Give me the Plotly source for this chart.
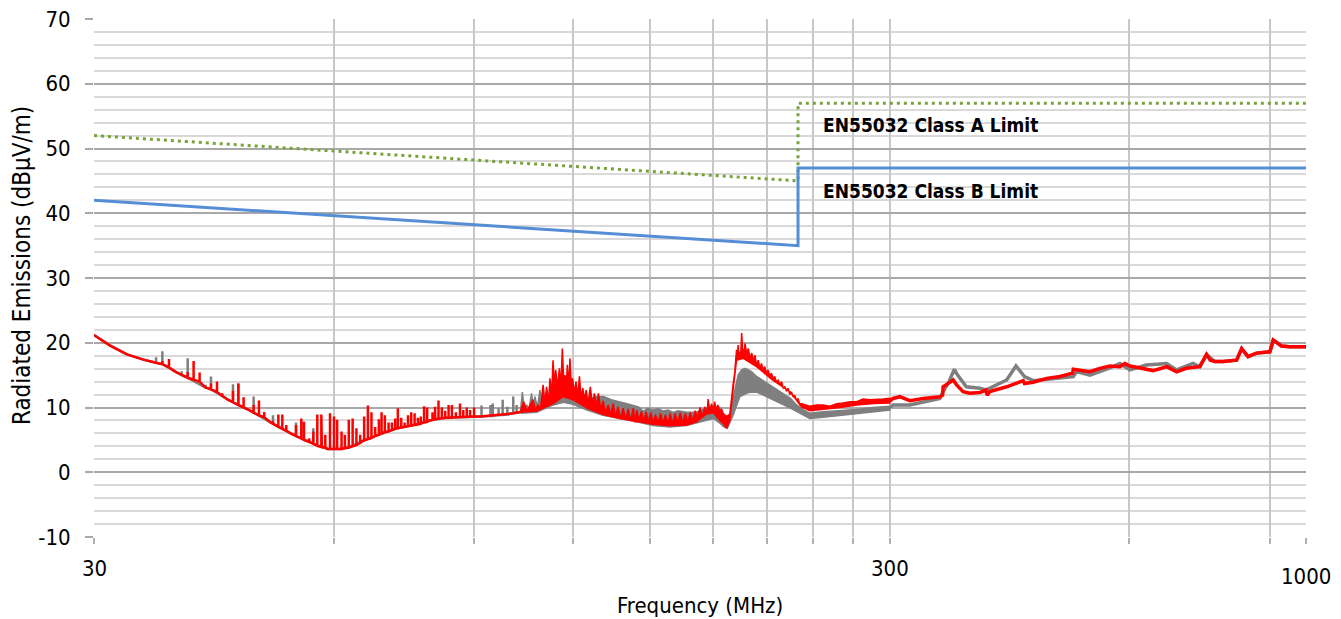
import math
import plotly.graph_objects as go

FONT = "Liberation Sans Narrow, DejaVu Sans Condensed, sans-serif"

# EN55032 limits (MHz, dBuV/m)
class_b_freq = [30, 230, 230, 1000]
class_b_db = [42, 35, 47, 47]
class_a_freq = [30, 230, 230, 1000]
class_a_db = [52, 45, 57, 57]

# red scan, 30-103 MHz: floor + narrow harmonics (freq, base, peak)
red_floor_low = [(30.0, 21.2), (31.4, 19.6), (33.0, 18.2), (34.6, 17.4), (35.9, 16.9), (38.0, 15.5),
                 (39.0, 14.8), (41.4, 13.1), (44.2, 11.2), (47.0, 9.6), (50.0, 7.7), (53.0, 6.0),
                 (56.0, 4.7), (58.0, 3.9), (59.0, 3.6), (61.1, 3.6), (62.9, 3.9), (65.4, 4.9),
                 (68.6, 5.9), (72.0, 6.8), (75.6, 7.3), (79.3, 8.0), (83.2, 8.4), (87.3, 8.55),
                 (91.6, 8.6), (96.1, 8.8), (100.9, 9.1), (103.0, 9.3)]
red_spikes_low = [(36.56, 16.7, 17.2), (37.27, 16.2, 17.5), (39.34, 14.6, 15.5), (40.02, 14.3, 17.2),
                  (40.72, 14.0, 15.4), (42.08, 12.8, 13.7), (42.82, 12.4, 14.0), (43.48, 11.8, 12.2),
                  (44.85, 10.8, 12.6), (45.55, 10.4, 13.7), (46.25, 10.0, 11.6), (47.61, 9.2, 10.4),
                  (48.35, 8.8, 11.1), (49.1, 8.5, 9.3), (50.35, 7.5, 7.9), (51.14, 7.0, 8.9),
                  (51.73, 6.7, 8.9), (52.33, 6.4, 7.3), (53.82, 5.6, 7.3), (54.65, 5.2, 8.3),
                  (55.07, 5.0, 7.8), (55.88, 4.7, 5.2), (56.58, 4.4, 6.3), (57.24, 4.1, 8.9),
                  (57.91, 3.9, 8.9), (58.58, 3.8, 5.8), (59.38, 3.6, 9.1), (60.07, 3.6, 8.6),
                  (60.62, 3.6, 8.1), (61.4, 3.6, 6.3), (62.0, 3.7, 5.8), (62.7, 3.8, 8.1),
                  (63.4, 4.0, 8.3), (64.1, 4.2, 6.8), (64.8, 4.5, 5.8), (65.55, 4.9, 8.6),
                  (66.26, 5.1, 10.3), (66.95, 5.3, 9.25), (67.67, 5.6, 7.0), (68.4, 5.8, 8.2),
                  (68.94, 6.0, 9.25), (69.6, 6.2, 8.8), (70.35, 6.3, 7.7), (71.03, 6.5, 7.7),
                  (71.7, 6.7, 8.3), (72.26, 6.8, 9.9), (72.97, 6.9, 8.4), (73.7, 7.0, 7.7),
                  (74.41, 7.1, 8.8), (75.11, 7.2, 9.25), (75.85, 7.3, 9.1), (76.57, 7.4, 8.4),
                  (77.22, 7.5, 8.6), (77.96, 7.7, 10.2), (78.66, 7.8, 10.0), (79.88, 8.1, 9.25),
                  (80.48, 8.2, 10.1), (81.28, 8.3, 11.1), (82.07, 8.35, 10.0), (82.87, 8.4, 9.5),
                  (83.69, 8.4, 10.4), (84.49, 8.45, 10.4), (85.47, 8.5, 9.25), (86.5, 8.5, 10.6),
                  (87.33, 8.55, 9.6), (88.2, 8.55, 10.0), (89.04, 8.6, 9.6), (90.09, 8.6, 10.0)]

# grey scan harmonics that show above the red one
grey_spikes_low = [(35.9, 16.9, 17.75), (36.56, 16.7, 18.7), (38.66, 15.0, 15.6), (39.34, 14.6, 17.6),
                   (41.44, 13.1, 13.5), (42.08, 12.8, 14.8), (44.85, 10.8, 13.6), (45.55, 10.4, 13.7),
                   (47.61, 9.2, 11.7), (50.35, 7.5, 8.8), (53.82, 5.6, 7.7), (56.58, 4.4, 6.8),
                   (92.05, 8.6, 10.3), (94.48, 8.7, 10.4), (95.1, 8.7, 10.6), (96.7, 8.8, 9.9),
                   (97.86, 8.85, 11.2), (99.2, 8.9, 10.1), (100.9, 9.1, 11.7), (101.9, 9.2, 10.4)]

# dense 103-300 MHz region: top and bottom of the envelope
red_band_top = [(103.0, 9.4), (104.0, 10.9), (105.0, 9.5), (106.8, 11.2), (107.6, 9.6), (108.4, 10.4),
                (109.2, 9.8), (110.0, 13.5), (110.6, 10.5), (111.1, 13.2), (111.8, 11.0), (112.2, 14.5),
                (112.8, 12.0), (113.2, 17.3), (113.7, 13.5), (114.1, 15.8), (114.7, 13.0), (115.3, 16.05),
                (115.8, 13.2), (116.3, 19.1), (116.8, 13.7), (117.2, 15.0), (117.6, 13.0), (118.0, 16.6),
                (118.5, 13.2), (118.9, 17.6), (119.4, 13.0), (119.8, 14.5), (120.4, 12.2), (121.0, 14.0),
                (121.6, 11.7), (122.2, 14.8), (122.8, 11.4), (123.4, 13.0), (124.0, 11.2), (124.6, 12.7),
                (125.3, 10.6), (126.1, 13.2), (126.9, 10.4), (127.6, 12.2), (128.4, 10.1), (129.1, 12.2),
                (130.0, 9.6), (130.8, 11.0), (131.8, 9.25), (132.8, 10.4), (133.8, 8.9), (134.7, 10.6),
                (135.7, 8.6), (136.6, 10.1), (137.6, 8.3), (138.7, 9.9), (139.7, 8.1), (140.7, 9.8),
                (141.7, 7.9), (142.8, 9.9), (143.5, 7.7), (144.2, 9.6), (145.2, 8.0), (146.2, 9.4),
                (147.2, 7.9), (148.2, 9.3), (149.2, 7.8), (150.2, 9.2), (151.2, 7.7), (152.3, 8.9),
                (153.4, 7.6), (154.5, 9.1), (155.6, 7.6), (156.7, 8.9), (157.8, 7.5), (158.9, 9.1),
                (160.0, 7.5), (161.2, 9.1), (162.4, 7.6), (163.6, 9.25), (164.8, 7.6), (166.0, 9.1),
                (167.2, 7.7), (168.4, 9.25), (169.6, 7.9), (170.8, 9.5), (172.0, 8.3), (173.2, 10.0),
                (174.4, 8.6), (175.6, 10.1), (176.8, 9.0), (177.3, 11.3), (178.2, 9.5), (179.1, 10.6),
                (180.0, 9.5), (180.7, 10.9), (181.5, 9.5), (182.4, 10.4), (183.4, 9.4), (184.3, 9.8),
                (185.2, 9.1), (187.0, 8.6), (188.8, 9.0), (189.7, 11.7), (190.6, 13.5), (191.5, 15.3),
                (192.5, 18.9), (193.0, 17.5), (193.4, 19.65), (193.9, 18.0), (194.4, 18.6), (194.9, 18.4),
                (195.4, 21.5), (195.9, 18.9), (196.3, 18.9), (196.8, 18.3), (197.3, 19.9), (198.2, 18.4),
                (199.2, 19.1), (200.2, 17.6), (201.2, 18.4), (202.1, 17.1), (203.0, 18.1), (204.0, 16.6),
                (205.0, 17.3), (206.0, 16.0), (206.9, 16.8), (207.9, 15.8), (208.9, 16.3), (209.9, 15.3),
                (210.9, 15.8), (212.0, 14.8), (213.0, 15.3), (214.0, 14.4), (215.0, 14.8), (216.1, 13.9),
                (217.1, 14.2), (218.2, 13.5), (219.3, 14.0), (220.4, 13.0), (221.4, 13.2), (222.5, 12.5),
                (223.5, 13.0), (224.6, 12.0), (225.7, 12.4), (226.8, 11.6), (227.8, 11.9), (228.9, 11.1),
                (230.0, 11.4), (231.1, 10.5), (232.3, 10.6), (235.0, 10.4), (238.0, 10.2), (242.6, 10.4),
                (247.4, 10.4), (252.2, 10.2), (257.2, 10.6), (262.1, 10.7), (267.2, 10.9), (272.5, 10.9),
                (277.6, 11.3), (283.1, 11.2), (288.6, 11.2), (294.2, 11.3), (300.0, 11.4)]
red_band_bottom = [(103.0, 9.25), (108.0, 9.46), (113.3, 10.6), (116.6, 11.7), (120.0, 11.2), (124.9, 9.9),
                   (130.8, 8.9), (137.4, 8.3), (144.2, 7.8), (151.2, 7.4), (158.7, 7.2), (166.6, 7.3),
                   (171.5, 7.8), (176.5, 9.0), (180.0, 9.2), (183.4, 8.0), (185.2, 7.55), (187.0, 6.8),
                   (188.8, 8.0), (190.6, 12.7), (192.5, 17.3), (196.3, 17.6), (204.0, 16.3), (214.0, 14.2),
                   (225.0, 12.4), (232.3, 10.1), (238.0, 9.5), (247.4, 9.7), (259.6, 10.0), (272.5, 10.4),
                   (285.8, 10.6), (300.0, 10.7)]
grey_band_top = [(103.0, 9.3), (103.6, 12.4), (104.2, 9.6), (104.9, 10.4), (105.6, 9.7), (106.4, 12.2),
                 (106.9, 10.0), (107.4, 11.7), (108.2, 10.0), (109.0, 12.7), (109.5, 10.5), (110.0, 13.2),
                 (110.6, 10.8), (111.5, 11.9), (112.5, 11.0), (113.3, 12.4), (115.5, 12.7), (117.6, 12.4),
                 (120.0, 11.7), (124.9, 11.2), (128.5, 11.7), (131.0, 11.7), (134.0, 11.2), (137.4, 10.9),
                 (141.0, 10.5), (144.9, 10.1), (147.0, 9.4), (149.0, 9.9), (151.2, 9.6), (153.4, 9.8),
                 (155.7, 9.46), (157.9, 9.6), (160.2, 9.25), (162.6, 9.5), (166.6, 9.25), (171.5, 9.3),
                 (174.0, 9.61), (176.5, 9.9), (180.0, 10.1), (183.4, 10.0), (185.2, 8.1), (188.8, 8.1),
                 (190.6, 11.4), (193.4, 15.0), (195.4, 15.8), (197.3, 16.05), (199.2, 15.8), (201.2, 15.5),
                 (204.0, 14.8), (209.0, 14.0), (214.0, 13.2), (219.3, 12.3), (225.0, 11.4), (229.0, 10.4),
                 (234.0, 9.6), (238.0, 9.1), (247.4, 9.35), (259.6, 9.5), (272.5, 9.7), (285.8, 10.0),
                 (300.0, 10.2)]
grey_band_bottom = [(103.0, 9.1), (108.0, 9.25), (113.3, 10.4), (116.6, 10.8), (120.0, 10.5), (124.9, 9.6),
                    (130.8, 8.8), (137.4, 8.3), (144.2, 7.8), (151.2, 7.2), (158.7, 7.0), (166.6, 7.2),
                    (174.0, 7.8), (180.0, 8.3), (183.4, 7.6), (185.2, 7.1), (187.5, 6.8), (190.6, 8.8),
                    (194.4, 11.7), (199.2, 12.3), (204.0, 12.4), (214.0, 11.2), (225.0, 9.9), (234.0, 8.8),
                    (238.0, 8.3), (247.4, 8.5), (272.5, 9.0), (300.0, 9.6)]

# 300-1000 MHz
red_high = [(300.0, 11.0), (302.8, 11.4), (308.7, 11.67), (317.8, 11.06), (330.4, 11.4), (346.7, 11.67),
            (349.4, 11.9), (350.0, 13.2), (356.0, 13.8), (360.3, 14.25), (363.9, 13.5), (370.8, 12.45),
            (378.1, 12.2), (389.3, 12.3), (396.1, 12.7), (397.6, 11.9), (400.7, 12.45), (420.6, 13.2),
            (441.2, 14.15), (442.9, 13.7), (454.1, 13.9), (472.2, 14.5), (490.8, 14.8), (509.0, 15.3),
            (510.0, 15.9), (530.1, 15.6), (535.1, 15.53), (550.9, 16.05), (567.1, 16.4), (583.6, 16.3),
            (592.1, 16.8), (600.7, 16.4), (618.4, 16.05), (642.6, 15.7), (668.3, 16.3), (687.6, 15.5),
            (707.2, 16.05), (735.5, 16.3), (750.0, 18.2), (758.0, 17.3), (768.1, 17.1), (786.9, 17.1),
            (818.0, 17.3), (830.1, 19.1), (845.6, 17.85), (866.7, 18.4), (900.8, 18.6), (909.6, 20.4),
            (931.7, 19.5), (954.3, 19.4), (1000.0, 19.4)]
grey_high = [(300.0, 10.0), (302.8, 10.4), (317.8, 10.4), (346.7, 11.4), (350.0, 12.45), (356.0, 14.0),
             (361.5, 15.9), (365.0, 15.0), (374.3, 13.2), (389.3, 12.96), (396.1, 12.7), (420.6, 14.25),
             (432.1, 16.41), (442.9, 14.76), (454.1, 14.15), (472.2, 14.35), (510.0, 14.76), (515.1, 15.55),
             (535.1, 15.0), (567.1, 16.1), (583.6, 16.8), (600.7, 15.8), (630.0, 16.56), (668.3, 16.8),
             (687.6, 15.8), (721.2, 16.8), (735.5, 16.3), (750.0, 18.2), (768.1, 17.1), (786.9, 17.1),
             (818.0, 17.3), (830.1, 19.1), (845.6, 17.85), (866.7, 18.4), (900.8, 18.6), (909.6, 20.4),
             (931.7, 19.5), (954.3, 19.4), (1000.0, 19.4)]

x_grid = [30, 60, 90, 120, 150, 180, 210, 240, 270, 300, 600, 900, 1000]
y_ticks = [-10, 0, 10, 20, 30, 40, 50, 60, 70]

RED = "#ff0000"
GREY = "#7f7f7f"


def with_spikes(floor, spikes):
    pts = list(floor)
    for f, lo, hi in spikes:
        pts += [(f, lo), (f, hi), (f, lo)]
    pts.sort(key=lambda p: p[0])
    return [p[0] for p in pts], [p[1] for p in pts]


def band(top, bottom):
    pts = list(top) + list(reversed(bottom))
    return [p[0] for p in pts], [p[1] for p in pts]


fig = go.Figure()

for color, spikes, top, bottom, high in [(GREY, grey_spikes_low, grey_band_top, grey_band_bottom, grey_high),
                                         (RED, red_spikes_low, red_band_top, red_band_bottom, red_high)]:
    x, y = with_spikes(red_floor_low, spikes)
    fig.add_trace(go.Scatter(x=x, y=y, mode="lines", line=dict(color=color, width=2.5), hoverinfo="skip"))
    x, y = band(top, bottom)
    fig.add_trace(go.Scatter(x=x, y=y, mode="lines", fill="toself", fillcolor=color,
                             line=dict(color=color, width=1.5), hoverinfo="skip"))
    fig.add_trace(go.Scatter(x=[p[0] for p in high], y=[p[1] for p in high], mode="lines",
                             line=dict(color=color, width=3.5), hoverinfo="skip"))

fig.add_trace(go.Scatter(x=class_a_freq, y=class_a_db, mode="lines",
                         line=dict(color="#77a33c", width=3, dash="3px,4px"), name="Class A"))
fig.add_trace(go.Scatter(x=class_b_freq, y=class_b_db, mode="lines",
                         line=dict(color="#558ed5", width=3), name="Class B"))

fig.update_layout(
    width=1341, height=619,
    margin=dict(l=94, r=35, t=19, b=82),
    plot_bgcolor="white", paper_bgcolor="white",
    showlegend=False,
    font=dict(family=FONT, size=22, color="black"),
    xaxis=dict(type="log", range=[math.log10(30), math.log10(1000)],
               tickvals=x_grid, ticktext=[""] * len(x_grid),
               showgrid=True, gridcolor="#c8c8c8", gridwidth=1.5,
               ticks="outside", ticklen=6, tickcolor="#b0b0b0", tickwidth=1.5,
               zeroline=False, showline=False, automargin=False),
    yaxis=dict(range=[-10, 70], tickvals=y_ticks, ticktext=[str(v) for v in y_ticks],
               showgrid=True, gridcolor="#a8a8a8", gridwidth=1.5,
               minor=dict(dtick=2, showgrid=True, gridcolor="#d9d9d9", gridwidth=1.5),
               ticks="outside", ticklen=8, tickcolor="#a8a8a8", tickwidth=1.5,
               ticklabelstandoff=10,
               zeroline=False, showline=False, automargin=False),
)

# x tick labels (Excel puts the last one slightly lower)
for val, txt, shift in [(30, "30", -31), (300, "300", -31), (1000, "1000", -39)]:
    fig.add_annotation(x=math.log10(val), y=0, xref="x", yref="paper", text=txt, showarrow=False,
                       xanchor="center", yanchor="middle", yshift=shift)

fig.add_annotation(x=0.5, y=0, xref="paper", yref="paper", text="Frequency (MHz)", showarrow=False,
                   xanchor="center", yanchor="middle", yshift=-68)
fig.add_annotation(x=0, y=0.523, xref="paper", yref="paper", text="Radiated Emissions (dBμV/m)",
                   showarrow=False, textangle=-90, xanchor="center", yanchor="middle", xshift=-72,
                   font=dict(size=24))

for label, db in [("EN55032 Class A Limit", 53.6), ("EN55032 Class B Limit", 43.4)]:
    fig.add_annotation(x=math.log10(245.7), y=db, xref="x", yref="y", text="<b>" + label + "</b>",
                       showarrow=False, xanchor="left", yanchor="middle", font=dict(size=19))

fig.write_html("out.html", config={"displayModeBar": False},
               post_script="document.body.style.margin='0px';")
